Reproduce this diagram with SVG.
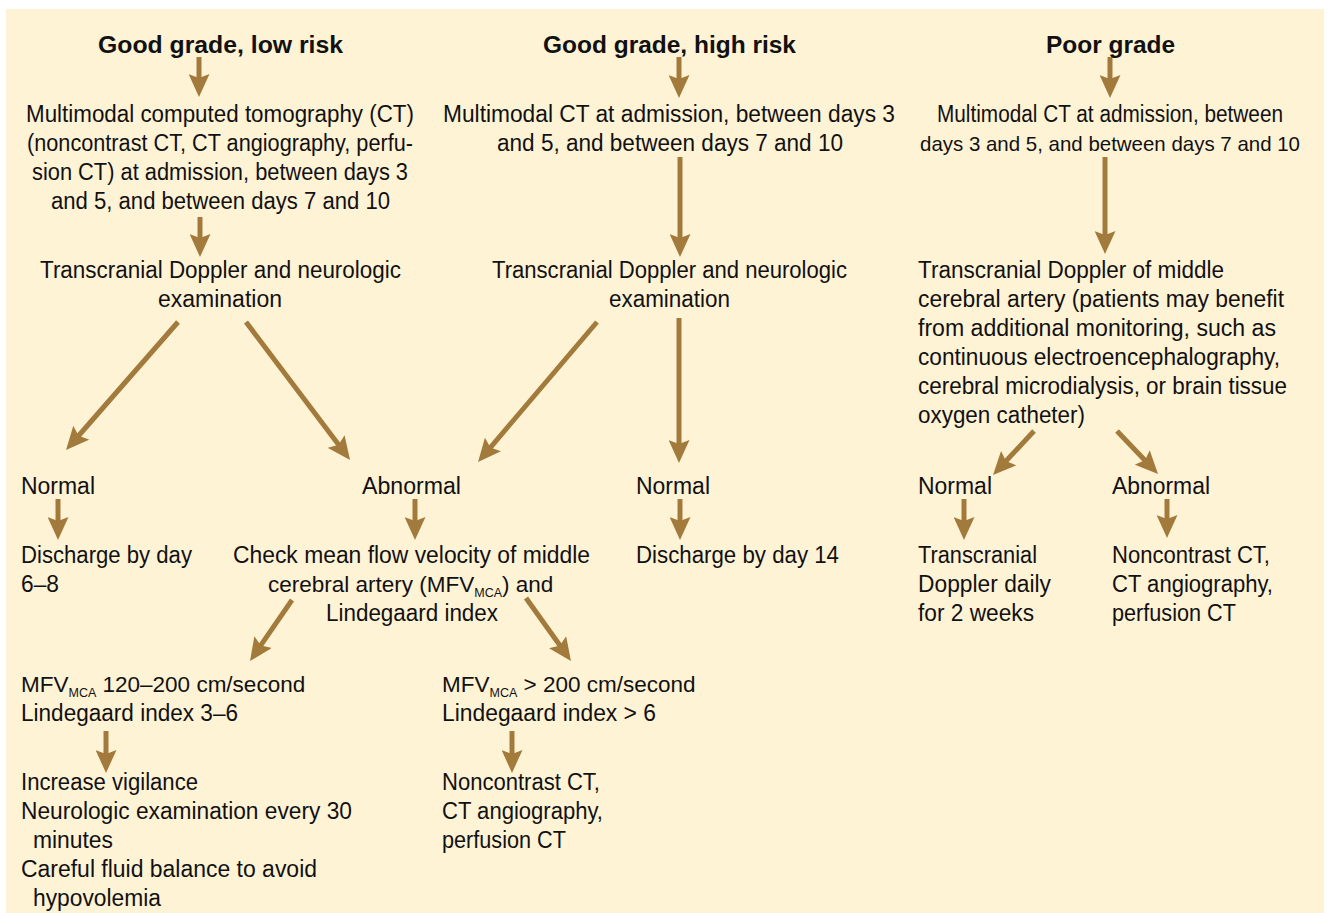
<svg xmlns="http://www.w3.org/2000/svg" width="1329" height="913" viewBox="0 0 1329 913">
<style>
.t{font-family:"Liberation Sans",Arial,sans-serif;font-size:23px;fill:#111}
.h{font-family:"Liberation Sans",Arial,sans-serif;font-size:23px;font-weight:bold;fill:#111}
.n{font-size:22.5px}
.s{font-size:12.5px}
.c{stroke:#A27A3C;stroke-width:5;fill:none;marker-end:url(#ah)}
</style>
<defs>
<marker id="ah" markerUnits="userSpaceOnUse" viewBox="-23 -10.5 23 21" markerWidth="23" markerHeight="21" refX="-18" refY="0" orient="auto">
<path d="M0,0 L-23,-10.5 L-19,0 L-23,10.5 Z" fill="#A27A3C"/>
</marker>
</defs>
<rect x="6" y="9" width="1318" height="904" fill="#FFF3D6"/>
<g id="connectors">
<line class="c" x1="199" y1="57" x2="199" y2="79"/>
<line class="c" x1="200" y1="217" x2="200" y2="239"/>
<line class="c" x1="178" y1="322" x2="77.9" y2="436.5"/>
<line class="c" x1="246" y1="322" x2="339.2" y2="445.6"/>
<line class="c" x1="58" y1="499" x2="58" y2="522"/>
<line class="c" x1="415" y1="499" x2="415" y2="522"/>
<line class="c" x1="292" y1="600" x2="260.2" y2="646.2"/>
<line class="c" x1="526" y1="598" x2="560.5" y2="646.3"/>
<line class="c" x1="106" y1="731" x2="106" y2="755"/>
<line class="c" x1="512" y1="731" x2="512" y2="755"/>
<line class="c" x1="679" y1="57" x2="679" y2="80"/>
<line class="c" x1="680" y1="157" x2="680" y2="239"/>
<line class="c" x1="597" y1="322" x2="489.7" y2="448.3"/>
<line class="c" x1="679" y1="318" x2="679" y2="445"/>
<line class="c" x1="680" y1="499" x2="680" y2="522"/>
<line class="c" x1="1110" y1="57" x2="1110" y2="80"/>
<line class="c" x1="1105" y1="157" x2="1105" y2="236"/>
<line class="c" x1="1034" y1="431" x2="1005.3" y2="461.8"/>
<line class="c" x1="1117" y1="431" x2="1145.6" y2="461"/>
<line class="c" x1="964" y1="499" x2="964" y2="522"/>
<line class="c" x1="1167" y1="499" x2="1167" y2="520"/>
</g>
<g id="n-goodlow"><text class="h" x="98" y="53" textLength="245" lengthAdjust="spacingAndGlyphs">Good grade, low risk</text></g>
<g id="n-goodhigh"><text class="h" x="543" y="53" textLength="253" lengthAdjust="spacingAndGlyphs">Good grade, high risk</text></g>
<g id="n-poor"><text class="h" x="1046" y="53" textLength="129" lengthAdjust="spacingAndGlyphs">Poor grade</text></g>
<g id="n-ct1">
<text class="t" x="26" y="122" textLength="388" lengthAdjust="spacingAndGlyphs">Multimodal computed tomography (CT)</text>
<text class="t" x="27" y="151" textLength="386" lengthAdjust="spacingAndGlyphs">(noncontrast CT, CT angiography, perfu-</text>
<text class="t" x="32" y="180" textLength="376" lengthAdjust="spacingAndGlyphs">sion CT) at admission, between days 3</text>
<text class="t" x="51" y="209" textLength="339" lengthAdjust="spacingAndGlyphs">and 5, and between days 7 and 10</text>
</g>
<g id="n-tcd1">
<text class="t" x="40" y="278" textLength="361" lengthAdjust="spacingAndGlyphs">Transcranial Doppler and neurologic</text>
<text class="t" x="158" y="307" textLength="124" lengthAdjust="spacingAndGlyphs">examination</text>
</g>
<g id="n-normal1"><text class="t" x="21" y="494" textLength="74" lengthAdjust="spacingAndGlyphs">Normal</text></g>
<g id="n-discharge1">
<text class="t" x="21" y="563" textLength="171" lengthAdjust="spacingAndGlyphs">Discharge by day</text>
<text class="t" x="21" y="592" textLength="38" lengthAdjust="spacingAndGlyphs">6–8</text>
</g>
<g id="n-abnormal1"><text class="t" x="362" y="494" textLength="99" lengthAdjust="spacingAndGlyphs">Abnormal</text></g>
<g id="n-check">
<text class="t" x="233" y="563" textLength="357" lengthAdjust="spacingAndGlyphs">Check mean flow velocity of middle</text>
<text class="t n" x="268" y="592">cerebral artery (MFV<tspan class="s" dy="5">MCA</tspan><tspan dy="-5">) and</tspan></text>
<text class="t" x="326" y="621" textLength="172" lengthAdjust="spacingAndGlyphs">Lindegaard index</text>
</g>
<g id="n-mfv1">
<text class="t n" x="21" y="692">MFV<tspan class="s" dy="5">MCA</tspan><tspan dy="-5"> 120–200 cm/second</tspan></text>
<text class="t" x="21" y="721" textLength="217" lengthAdjust="spacingAndGlyphs">Lindegaard index 3–6</text>
</g>
<g id="n-vigil">
<text class="t" x="21" y="790" textLength="177" lengthAdjust="spacingAndGlyphs">Increase vigilance</text>
<text class="t" x="21" y="819" textLength="331" lengthAdjust="spacingAndGlyphs">Neurologic examination every 30</text>
<text class="t" x="33" y="848" textLength="80" lengthAdjust="spacingAndGlyphs">minutes</text>
<text class="t" x="21" y="877" textLength="296" lengthAdjust="spacingAndGlyphs">Careful fluid balance to avoid</text>
<text class="t" x="33" y="906" textLength="128" lengthAdjust="spacingAndGlyphs">hypovolemia</text>
</g>
<g id="n-mfv2">
<text class="t n" x="442" y="692">MFV<tspan class="s" dy="5">MCA</tspan><tspan dy="-5"> &gt; 200 cm/second</tspan></text>
<text class="t" x="442" y="721" textLength="214" lengthAdjust="spacingAndGlyphs">Lindegaard index &gt; 6</text>
</g>
<g id="n-ct-abn1">
<text class="t" x="442" y="790" textLength="158" lengthAdjust="spacingAndGlyphs">Noncontrast CT,</text>
<text class="t" x="442" y="819" textLength="161" lengthAdjust="spacingAndGlyphs">CT angiography,</text>
<text class="t" x="442" y="848" textLength="124" lengthAdjust="spacingAndGlyphs">perfusion CT</text>
</g>
<g id="n-ct2">
<text class="t" x="443" y="122" textLength="452" lengthAdjust="spacingAndGlyphs">Multimodal CT at admission, between days 3</text>
<text class="t" x="497" y="151" textLength="346" lengthAdjust="spacingAndGlyphs">and 5, and between days 7 and 10</text>
</g>
<g id="n-tcd2">
<text class="t" x="492" y="278" textLength="355" lengthAdjust="spacingAndGlyphs">Transcranial Doppler and neurologic</text>
<text class="t" x="609" y="307" textLength="121" lengthAdjust="spacingAndGlyphs">examination</text>
</g>
<g id="n-normal2"><text class="t" x="636" y="494" textLength="74" lengthAdjust="spacingAndGlyphs">Normal</text></g>
<g id="n-discharge2"><text class="t" x="636" y="563" textLength="203" lengthAdjust="spacingAndGlyphs">Discharge by day 14</text></g>
<g id="n-ct3">
<text class="t" x="937" y="122" textLength="346" lengthAdjust="spacingAndGlyphs">Multimodal CT at admission, between</text>
<text class="t" x="920" y="151" style="font-size:21px" textLength="380" lengthAdjust="spacingAndGlyphs">days 3 and 5, and between days 7 and 10</text>
</g>
<g id="n-tcd3">
<text class="t" x="918" y="278" textLength="306" lengthAdjust="spacingAndGlyphs">Transcranial Doppler of middle</text>
<text class="t" x="918" y="307" textLength="366" lengthAdjust="spacingAndGlyphs">cerebral artery (patients may benefit</text>
<text class="t" x="918" y="336" textLength="358" lengthAdjust="spacingAndGlyphs">from additional monitoring, such as</text>
<text class="t" x="918" y="365" textLength="362" lengthAdjust="spacingAndGlyphs">continuous electroencephalography,</text>
<text class="t" x="918" y="394" textLength="369" lengthAdjust="spacingAndGlyphs">cerebral microdialysis, or brain tissue</text>
<text class="t" x="918" y="423" textLength="167" lengthAdjust="spacingAndGlyphs">oxygen catheter)</text>
</g>
<g id="n-normal3"><text class="t" x="918" y="494" textLength="74" lengthAdjust="spacingAndGlyphs">Normal</text></g>
<g id="n-abnormal3"><text class="t" x="1112" y="494" textLength="98" lengthAdjust="spacingAndGlyphs">Abnormal</text></g>
<g id="n-tcddaily">
<text class="t" x="918" y="563" textLength="119" lengthAdjust="spacingAndGlyphs">Transcranial</text>
<text class="t" x="918" y="592" textLength="133" lengthAdjust="spacingAndGlyphs">Doppler daily</text>
<text class="t" x="918" y="621" textLength="116" lengthAdjust="spacingAndGlyphs">for 2 weeks</text>
</g>
<g id="n-ct-abn3">
<text class="t" x="1112" y="563" textLength="158" lengthAdjust="spacingAndGlyphs">Noncontrast CT,</text>
<text class="t" x="1112" y="592" textLength="161" lengthAdjust="spacingAndGlyphs">CT angiography,</text>
<text class="t" x="1112" y="621" textLength="124" lengthAdjust="spacingAndGlyphs">perfusion CT</text>
</g>
</svg>
